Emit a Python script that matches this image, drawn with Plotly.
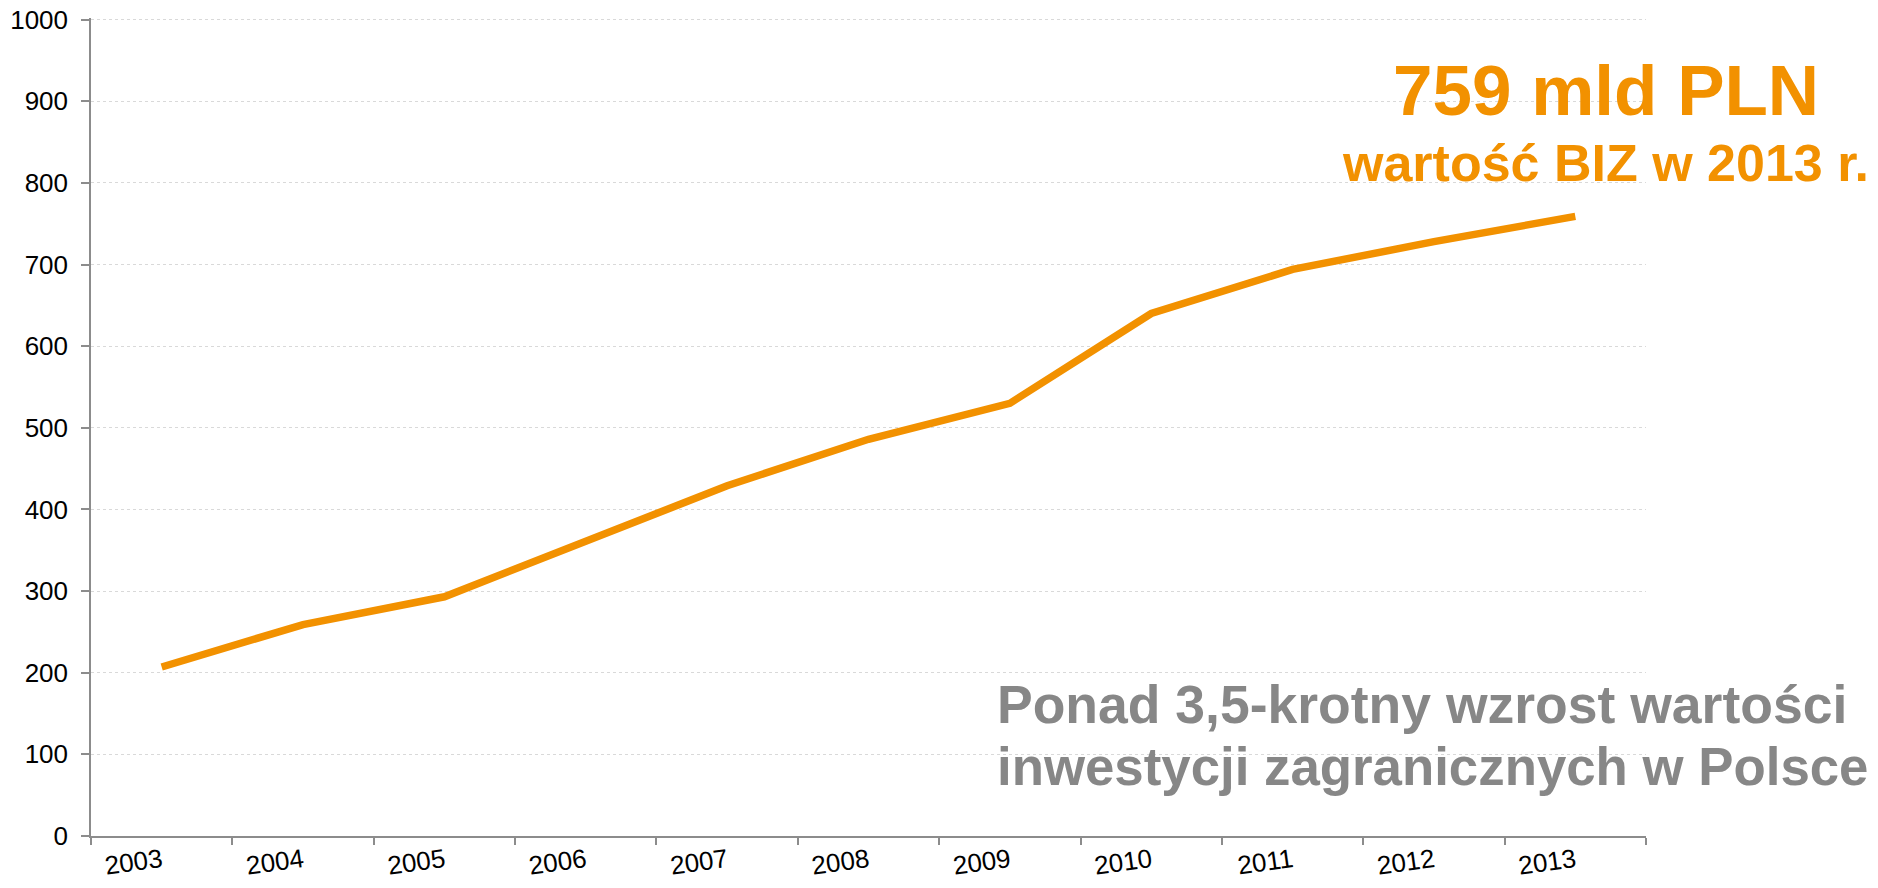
import plotly.graph_objects as go

years = ["2003", "2004", "2005", "2006", "2007", "2008", "2009", "2010", "2011", "2012", "2013"]
fdi_values = [207, 259, 293, 361, 429, 486, 530, 640, 694, 728, 759]
y_ticks = [0, 100, 200, 300, 400, 500, 600, 700, 800, 900, 1000]

ORANGE = "#F29100"
GREY = "#878787"
AXIS = "#8C8C8C"
FONT = "Liberation Sans, Arial, sans-serif"

OFF = 0  # body margin removed by post_script
W, H = 1878, 888
Y_TOP = 1002
pw = 1555
ph = 816 * Y_TOP / 1000
L = 91 - OFF
T = (836 - ph) - OFF
R = W - L - pw
B = H - T - ph

def px(x):
    return (x - OFF - L) / pw

def py(y):
    return (T + ph - (y - OFF)) / ph

fig = go.Figure()
fig.add_trace(go.Scatter(
    x=years, y=fdi_values, mode="lines",
    line=dict(color=ORANGE, width=7.5),
    showlegend=False, hoverinfo="x+y",
))

fig.update_layout(
    width=W, height=H,
    margin=dict(l=L, r=R, t=T, b=B, autoexpand=False),
    paper_bgcolor="white", plot_bgcolor="white",
    font=dict(family=FONT, color="black", size=26),
    xaxis=dict(
        type="category", range=[-0.5, 10.5],
        showline=True, linecolor=AXIS, linewidth=1.5,
        ticks="outside", ticklen=7, tickcolor=AXIS, tickwidth=1.5,
        tickson="boundaries", tickangle=-8, ticklabelstandoff=-2,
        tickfont=dict(size=26, family=FONT, color="black"),
        showgrid=False, zeroline=False, fixedrange=True, automargin=False,
    ),
    yaxis=dict(
        range=[0, Y_TOP], tickvals=y_ticks, ticktext=[str(v) for v in y_ticks],
        showline=True, linecolor=AXIS, linewidth=1.5,
        ticks="outside", ticklen=8, tickcolor=AXIS, tickwidth=1.5,
        ticklabelstandoff=8, ticklabeloverflow="allow",
        tickfont=dict(size=26, family=FONT, color="black"),
        showgrid=True, gridcolor="#D9D9D9", gridwidth=1, griddash="dot",
        zeroline=False, fixedrange=True, automargin=False,
    ),
    annotations=[
        dict(text="<b>759 mld PLN</b>", xref="paper", yref="paper",
             x=px(1606), y=py(91), xanchor="center", yanchor="middle",
             showarrow=False, font=dict(size=71, color=ORANGE, family=FONT)),
        dict(text="<b>wartość BIZ w 2013 r.</b>", xref="paper", yref="paper",
             x=px(1605), y=py(163), xanchor="center", yanchor="middle",
             showarrow=False, font=dict(size=52, color=ORANGE, family=FONT)),
        dict(text="<b>Ponad 3,5-krotny wzrost wartości</b>", xref="paper", yref="paper",
             x=px(995), y=py(705), xanchor="left", yanchor="middle",
             showarrow=False, font=dict(size=53.5, color=GREY, family=FONT)),
        dict(text="<b>inwestycji zagranicznych w Polsce</b>", xref="paper", yref="paper",
             x=px(995), y=py(767), xanchor="left", yanchor="middle",
             showarrow=False, font=dict(size=52.8, color=GREY, family=FONT)),
    ],
)

fig.write_html("out.html", config={"displayModeBar": False},
               post_script="document.body.style.margin='0';")
